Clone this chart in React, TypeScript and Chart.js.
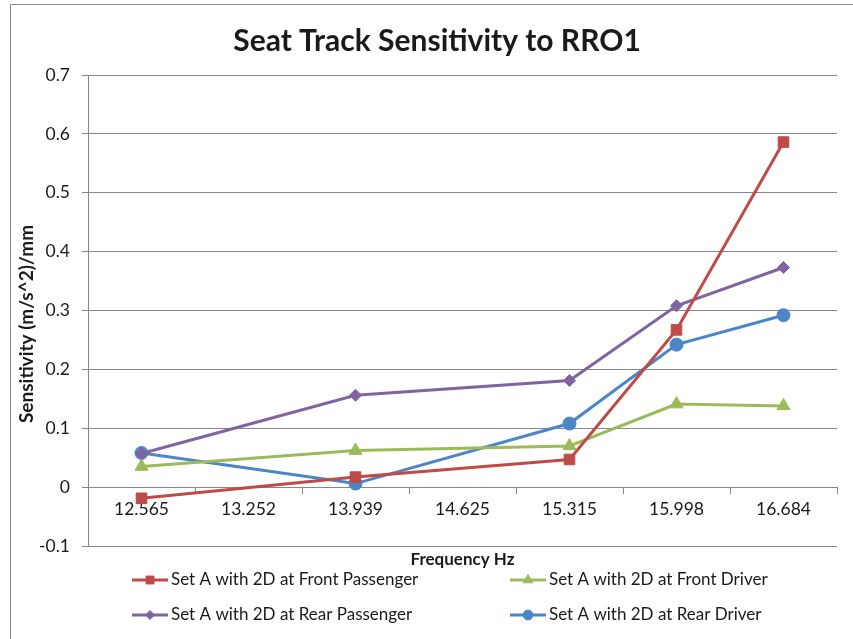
import React, { useEffect, useRef } from "react";
import { Chart, registerables } from "chart.js";
import { drawPoint } from "chart.js/helpers";

Chart.register(...registerables);

// ---- chart data ----
const chartTitle = "Seat Track Sensitivity to RRO1";
const xAxisTitle = "Frequency Hz";
const yAxisTitle = "Sensitivity (m/s^2)/mm";

const frequencies = ["12.565", "13.252", "13.939", "14.625", "15.315", "15.998", "16.684"];

const frontPassenger = [-0.019, null, 0.017, null, 0.047, 0.267, 0.586];
const frontDriver = [0.035, null, 0.062, null, 0.07, 0.141, 0.138];
const rearPassenger = [0.057, null, 0.156, null, 0.181, 0.308, 0.373];
const rearDriver = [0.058, null, 0.006, null, 0.108, 0.242, 0.292];

const seriesNames = [
  "Set A with 2D at Front Passenger",
  "Set A with 2D at Front Driver",
  "Set A with 2D at Rear Passenger",
  "Set A with 2D at Rear Driver",
];
const seriesColors = ["#BE4B48", "#9BBB59", "#8064A2", "#4A86C8"];
const seriesMarkers = ["rect", "triangle", "rectRot", "circle"];
const markerSizes = [7.5, 7.5, 6, 6.5];

const yMin = -0.1;
const yMax = 0.7;
const yStep = 0.1;

const FONT = "Lato, 'Open Sans', sans-serif";
const GRID = "#878787";
const TEXT = "#1a1a1a";

// Titles, frame and the two-column legend
const decorations = {
  id: "decorations",
  beforeDraw(chart: any) {
    const { ctx, width, height } = chart;
    ctx.save();
    ctx.fillStyle = "#ffffff";
    ctx.fillRect(0, 0, width, height);
    ctx.strokeStyle = "#8c8c8c";
    ctx.lineWidth = 1;
    ctx.beginPath();
    ctx.moveTo(10.5, height);
    ctx.lineTo(10.5, 4.5);
    ctx.lineTo(width, 4.5);
    ctx.stroke();
    ctx.restore();
  },
  afterDraw(chart: any) {
    const { ctx, chartArea } = chart;
    ctx.save();
    ctx.fillStyle = TEXT;
    ctx.textAlign = "center";
    ctx.textBaseline = "middle";

    ctx.font = `bold 30px ${FONT}`;
    ctx.fillText(chartTitle, 437, 41);

    ctx.font = `bold 17px ${FONT}`;
    ctx.fillText(xAxisTitle, (chartArea.left + chartArea.right) / 2, 560);

    ctx.save();
    ctx.translate(27, 324);
    ctx.rotate(-Math.PI / 2);
    ctx.font = `bold 19px ${FONT}`;
    ctx.fillText(yAxisTitle, 0, 0);
    ctx.restore();

    // legend: 2 x 2 grid
    const cols = [132, 510];
    const rows = [580, 615];
    chart.data.datasets.forEach((ds: any, i: number) => {
      const x0 = cols[i % 2];
      const y0 = rows[Math.floor(i / 2)];
      ctx.strokeStyle = ds.borderColor;
      ctx.fillStyle = ds.borderColor;
      ctx.lineWidth = 3;
      ctx.beginPath();
      ctx.moveTo(x0, y0);
      ctx.lineTo(x0 + 36, y0);
      ctx.stroke();
      ctx.lineWidth = 1;
      drawPoint(
        ctx,
        { pointStyle: ds.pointStyle, radius: ds.pointRadius * 0.75, borderWidth: 1, rotation: 0 },
        x0 + 18,
        y0
      );
      ctx.fillStyle = TEXT;
      ctx.textAlign = "left";
      ctx.font = `17px ${FONT}`;
      ctx.fillText(ds.label, x0 + 39, y0);
    });
    ctx.restore();
  },
};

export default function App() {
  const canvasRef = useRef<HTMLCanvasElement | null>(null);

  useEffect(() => {
    const canvas = canvasRef.current;
    if (!canvas) return;
    const series = [frontPassenger, frontDriver, rearPassenger, rearDriver];
    const chart = new Chart(canvas, {
      type: "line",
      data: {
        labels: frequencies,
        datasets: series.map((values, i) => ({
          label: seriesNames[i],
          data: values,
          borderColor: seriesColors[i],
          backgroundColor: seriesColors[i],
          pointBackgroundColor: seriesColors[i],
          pointBorderColor: seriesColors[i],
          pointStyle: seriesMarkers[i],
          pointRadius: markerSizes[i],
          pointBorderWidth: 1,
          borderWidth: 3,
          spanGaps: true,
          tension: 0,
        })),
      },
      options: {
        responsive: false,
        animation: false,
        layout: { padding: { left: 0, right: 16, top: 75, bottom: 93 } },
        plugins: {
          legend: { display: false },
          title: { display: false },
          tooltip: { enabled: false },
        },
        scales: {
          x: {
            type: "category",
            position: { y: 0 },
            offset: true,
            grid: {
              offset: true,
              drawOnChartArea: false,
              drawTicks: true,
              tickLength: 6,
              color: GRID,
            },
            border: { display: true, color: GRID, width: 1 },
            ticks: {
              color: TEXT,
              font: { family: FONT, size: 17.5 },
              padding: 6,
              maxRotation: 0,
              autoSkip: false,
            },
          },
          y: {
            min: yMin,
            max: yMax,
            afterFit: (scale: any) => {
              scale.width = 88;
            },
            grid: { color: GRID, tickLength: 6, drawTicks: true },
            border: { display: true, color: GRID, width: 1 },
            ticks: {
              stepSize: yStep,
              color: TEXT,
              font: { family: FONT, size: 17.5 },
              padding: 12,
              callback: (v: any) => String(Number(Number(v).toFixed(1))),
            },
          },
        },
      },
      plugins: [decorations],
    });
    return () => chart.destroy();
  }, []);

  return (
    <div style={{ position: "fixed", left: 0, top: 0, width: 853, height: 639, overflow: "hidden", background: "#fff" }}>
      <canvas ref={canvasRef} width={853} height={639} style={{ display: "block", width: 853, height: 639 }} />
    </div>
  );
}
